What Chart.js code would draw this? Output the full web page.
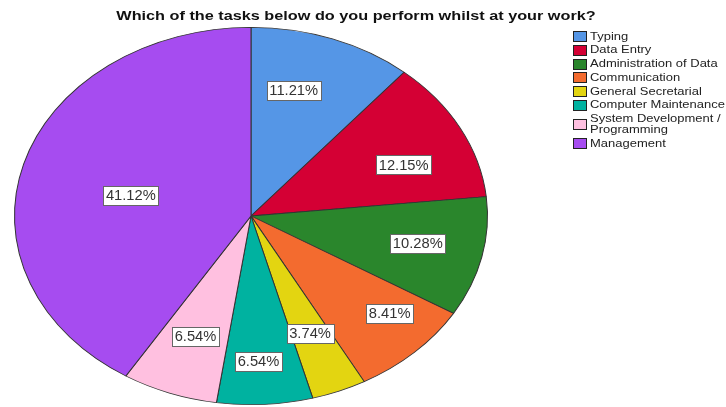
<!DOCTYPE html>
<html>
<head>
<meta charset="utf-8">
<title>Tasks at work</title>
<script src="https://cdn.jsdelivr.net/npm/chart.js@4.4.0/dist/chart.umd.min.js"></script>
<style>
	html, body { margin: 0; padding: 0; background: #fff; }
	#wrap { position: relative; width: 726px; height: 407px; }
</style>
</head>
<body>
<div id="wrap"><canvas id="pie-chartcanvas"></canvas></div>
<script>
var tasks = [
	"Typing",
	"Data Entry",
	"Administration of Data",
	"Communication",
	"General Secretarial",
	"Computer Maintenance",
	"System Development / Programming",
	"Management"
];
var percents = [11.21, 12.15, 10.28, 8.41, 3.74, 6.54, 6.54, 41.12];
var sliceColors = [
	"#5596E6",
	"#D40034",
	"#2A862C",
	"#F36B2F",
	"#E3D511",
	"#00B2A0",
	"#FFC0E0",
	"#A64CF0"
];
var chartTitle = "Which of the tasks below do you perform whilst at your work?";

// where each percentage box sits: fraction of the radius, and a small turn (degrees) off the slice middle
var labelDepth = [0.69, 0.70, 0.72, 0.78, 0.67, 0.77, 0.68, 0.52];
var labelTurn = [-5, 5, -1, -5, 0, 1, 0, -3.7];

var pieStretch = 1.254;      // the pie is drawn as a wide ellipse
var FONT = "'Liberation Sans', Arial, sans-serif";

function stretchedText(ctx, text, x, y, sx) {
	ctx.save();
	ctx.translate(x, y);
	ctx.scale(sx, 1);
	ctx.fillText(text, 0, 0);
	ctx.restore();
}

function wrapWords(ctx, text, maxWidth, sx) {
	var words = text.split(" ");
	var lines = [];
	var line = "";
	words.forEach(function (w) {
		var test = line ? line + " " + w : w;
		if (line && ctx.measureText(test).width * sx > maxWidth) {
			lines.push(line);
			line = w;
		} else {
			line = test;
		}
	});
	lines.push(line);
	return lines;
}

var ellipsePlugin = {
	id: "ellipse",
	beforeDatasetsDraw: function (chart) {
		var arc = chart.getDatasetMeta(0).data[0];
		var ctx = chart.ctx;
		ctx.save();
		ctx.translate(arc.x, arc.y);
		ctx.scale(pieStretch, 1);
		ctx.translate(-arc.x, -arc.y);
	},
	afterDatasetsDraw: function (chart) {
		chart.ctx.restore();
	}
};

var decorPlugin = {
	id: "decor",
	afterDraw: function (chart) {
		var ctx = chart.ctx;

		// title
		ctx.save();
		ctx.fillStyle = "#111";
		ctx.font = "bold 13px " + FONT;
		ctx.textAlign = "center";
		ctx.textBaseline = "middle";
		stretchedText(ctx, chartTitle, 356, 16.5, 1.25);
		ctx.restore();

		// percentage boxes
		ctx.save();
		ctx.font = "14px " + FONT;
		ctx.textAlign = "center";
		ctx.textBaseline = "middle";
		var labSx = 1.05;
		chart.getDatasetMeta(0).data.forEach(function (arc, i) {
			var p = arc.getProps(["x", "y", "startAngle", "endAngle", "outerRadius"], true);
			var mid = (p.startAngle + p.endAngle) / 2 + labelTurn[i] * Math.PI / 180;
			var r = p.outerRadius * labelDepth[i];
			var x = p.x + Math.cos(mid) * r * pieStretch;
			var y = p.y + Math.sin(mid) * r;
			var text = percents[i].toFixed(2) + "%";
			var w = Math.round(ctx.measureText(text).width * labSx + 5);
			var h = 19;
			var bx = Math.round(x - w / 2) + 0.5;
			var by = Math.round(y - h / 2) + 0.5;
			ctx.fillStyle = "#fff";
			ctx.fillRect(bx, by, w, h);
			ctx.strokeStyle = "#666";
			ctx.lineWidth = 1;
			ctx.strokeRect(bx, by, w, h);
			ctx.fillStyle = "#333";
			stretchedText(ctx, text, x, y + 1, labSx);
		});
		ctx.restore();

		// legend
		ctx.save();
		ctx.font = "11px " + FONT;
		ctx.textAlign = "left";
		ctx.textBaseline = "middle";
		var legSx = 1.18;
		var rowH = 13.7;
		var lineH = 11;
		var top = 29.85;
		tasks.forEach(function (name, i) {
			var lines = wrapWords(ctx, name, 137, legSx);
			var itemH = rowH + (lines.length - 1) * lineH;
			var cy = top + itemH / 2;
			var by = Math.round(cy - 5.5) + 0.5;
			ctx.fillStyle = sliceColors[i];
			ctx.fillRect(573.5, by, 13, 10);
			ctx.strokeStyle = "#222";
			ctx.lineWidth = 1;
			ctx.strokeRect(573.5, by, 13, 10);
			ctx.fillStyle = "#222";
			lines.forEach(function (ln, k) {
				stretchedText(ctx, ln, 590, top + rowH / 2 + k * lineH, legSx);
			});
			top += itemH;
		});
		ctx.restore();
	}
};

var pieData = {
	labels: tasks,
	datasets: [
		{
			label: "Tasks performed at work",
			data: percents,
			backgroundColor: sliceColors,
			borderColor: "#333",
			borderWidth: 0.8
		}
	]
};

var pieOptions = {
	responsive: true,
	maintainAspectRatio: false,
	animation: false,
	events: [],
	layout: {
		padding: { top: 27, bottom: 2, left: 62, right: 286 }
	},
	plugins: {
		legend: { display: false },
		tooltip: { enabled: false }
	}
};

var chart = new Chart(document.getElementById("pie-chartcanvas"), {
	type: "pie",
	data: pieData,
	options: pieOptions,
	plugins: [ellipsePlugin, decorPlugin]
});
</script>
</body>
</html>
